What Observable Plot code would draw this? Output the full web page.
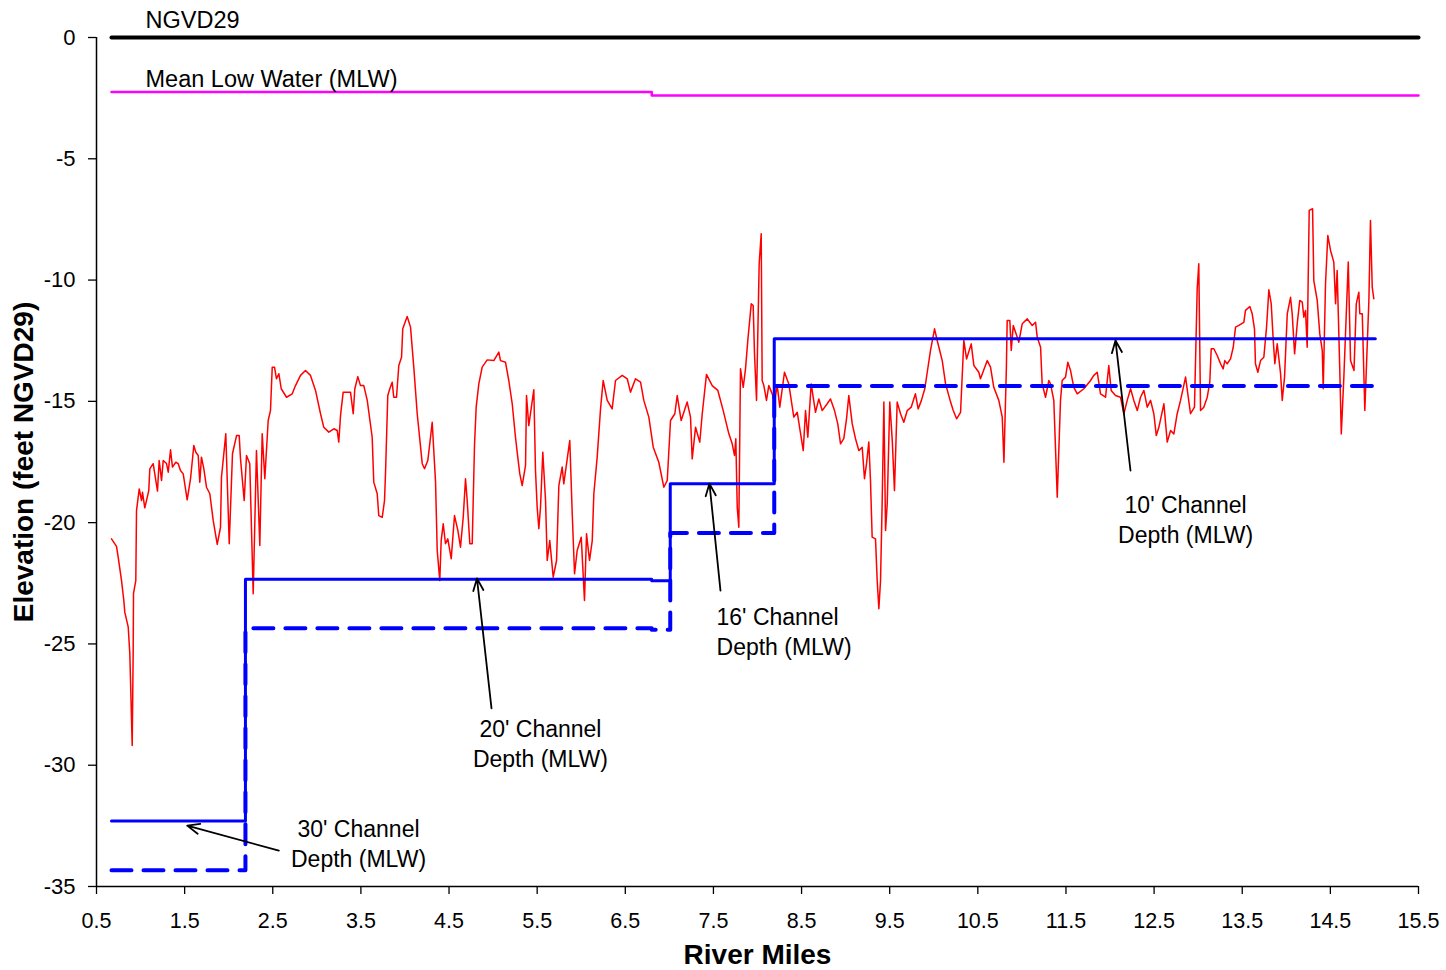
<!DOCTYPE html>
<html><head><meta charset="utf-8">
<script src="https://cdn.jsdelivr.net/npm/d3@7"></script>
<script src="https://cdn.jsdelivr.net/npm/@observablehq/plot@0.6"></script>
<style>html,body{margin:0;padding:0;background:#fff;} svg{display:block}</style>
</head><body><div id="chart"></div>
<script>
// River bottom profile (river miles, elevation ft NGVD29)
const profileMiles = [
0.670,0.727,0.746,0.784,0.810,0.821,0.860,0.878,0.905,0.916,
0.920,0.946,0.954,0.985,1.011,1.022,1.048,1.067,1.093,1.105,
1.143,1.173,1.192,1.211,1.238,1.257,1.294,1.314,1.340,1.362,
1.400,1.427,1.453,1.484,1.529,1.567,1.604,1.627,1.654,1.672,
1.691,1.718,1.748,1.786,1.824,1.870,1.907,1.918,1.967,2.006,
2.043,2.089,2.119,2.134,2.176,2.202,2.239,2.278,2.315,2.353,
2.380,2.410,2.448,2.474,2.494,2.520,2.542,2.569,2.596,2.656,
2.721,2.758,2.815,2.871,2.928,2.985,3.042,3.079,3.136,3.193,
3.231,3.249,3.269,3.299,3.382,3.413,3.431,3.465,3.495,3.533,
3.572,3.628,3.646,3.685,3.703,3.742,3.768,3.779,3.805,3.828,
3.855,3.873,3.904,3.930,3.961,3.975,4.025,4.063,4.100,4.139,
4.196,4.222,4.259,4.290,4.309,4.347,4.366,4.395,4.411,4.434,
4.460,4.486,4.525,4.562,4.600,4.630,4.661,4.687,4.706,4.736,
4.763,4.789,4.808,4.838,4.876,4.933,5.008,5.065,5.084,5.141,
5.178,5.217,5.254,5.280,5.303,5.330,5.368,5.379,5.405,5.462,
5.481,5.500,5.519,5.538,5.564,5.595,5.614,5.643,5.682,5.720,
5.746,5.784,5.802,5.870,5.898,5.924,5.954,6.000,6.037,6.060,
6.094,6.125,6.143,6.181,6.219,6.249,6.295,6.351,6.389,6.465,
6.522,6.559,6.616,6.673,6.710,6.767,6.817,6.880,6.937,6.976,
7.013,7.062,7.089,7.134,7.202,7.240,7.259,7.297,7.345,7.373,
7.421,7.486,7.550,7.611,7.675,7.713,7.739,7.754,7.770,7.788,
7.807,7.838,7.864,7.890,7.929,7.951,7.966,7.989,8.019,8.042,
8.053,8.072,8.102,8.128,8.167,8.193,8.224,8.253,8.306,8.355,
8.412,8.451,8.519,8.545,8.571,8.609,8.658,8.696,8.734,8.791,
8.828,8.874,8.911,8.942,8.979,9.010,9.036,9.075,9.112,9.150,
9.188,9.214,9.237,9.263,9.282,9.301,9.339,9.358,9.377,9.396,
9.415,9.434,9.453,9.472,9.501,9.529,9.554,9.585,9.623,9.660,
9.699,9.744,9.792,9.823,9.860,9.898,9.926,9.963,10.009,10.039,
10.096,10.134,10.191,10.221,10.259,10.304,10.341,10.372,10.425,10.455,
10.511,10.530,10.607,10.644,10.681,10.738,10.777,10.796,10.824,10.833,
10.863,10.879,10.902,10.928,10.965,11.004,11.061,11.117,11.155,11.174,
11.212,11.230,11.268,11.306,11.325,11.362,11.401,11.438,11.457,11.495,
11.521,11.552,11.589,11.628,11.703,11.779,11.816,11.855,11.892,11.949,
11.986,12.013,12.062,12.119,12.157,12.195,12.233,12.270,12.309,12.346,
12.384,12.422,12.460,12.497,12.525,12.554,12.611,12.649,12.687,12.724,
12.762,12.800,12.857,12.913,12.958,12.989,13.007,13.027,13.064,13.103,
13.132,13.148,13.178,13.216,13.254,13.284,13.302,13.329,13.367,13.398,
13.424,13.461,13.518,13.537,13.586,13.613,13.639,13.650,13.677,13.708,
13.745,13.776,13.802,13.829,13.852,13.870,13.897,13.935,13.954,13.980,
14.011,14.048,14.067,14.094,14.124,14.153,14.181,14.199,14.218,14.237,
14.260,14.298,14.312,14.351,14.380,14.408,14.419,14.445,14.471,14.502,
14.539,14.559,14.577,14.607,14.624,14.653,14.703,14.729,14.768,14.794,
14.823,14.834,14.862,14.891,14.937,14.955,14.975,14.993
];
const profileElev = [
-20.67,-20.98,-21.42,-22.39,-23.21,-23.69,-24.31,-25.39,-29.19,-25.39,
-22.92,-22.39,-19.50,-18.61,-19.09,-18.75,-19.39,-19.09,-18.68,-17.78,
-17.57,-18.26,-18.70,-17.44,-18.26,-17.44,-17.56,-17.92,-17.00,-17.71,
-17.51,-17.57,-17.85,-17.99,-19.06,-18.19,-16.82,-17.10,-17.23,-18.33,
-17.30,-17.78,-18.54,-18.81,-19.91,-20.90,-20.19,-18.13,-16.34,-20.87,
-17.16,-16.41,-16.41,-17.37,-19.09,-17.23,-17.57,-22.93,-17.03,-20.94,
-16.34,-18.19,-15.79,-15.38,-13.59,-13.59,-14.07,-13.86,-14.48,-14.83,
-14.69,-14.35,-13.93,-13.73,-13.93,-14.55,-15.51,-16.07,-16.27,-16.13,
-16.20,-16.68,-15.58,-14.62,-14.62,-15.51,-14.48,-13.98,-14.35,-14.35,
-14.96,-16.48,-18.33,-18.81,-19.71,-19.78,-19.09,-17.99,-14.76,-14.48,
-14.21,-14.83,-14.83,-13.52,-13.18,-12.01,-11.50,-11.94,-13.59,-15.51,
-17.57,-17.78,-17.44,-16.48,-15.86,-18.33,-21.15,-22.39,-20.74,-20.05,
-20.87,-20.67,-21.49,-19.71,-20.32,-21.01,-19.78,-18.19,-19.09,-20.87,
-20.87,-16.82,-15.24,-14.28,-13.59,-13.29,-13.32,-12.97,-13.32,-13.39,
-14.14,-15.10,-16.48,-17.30,-17.99,-18.47,-17.64,-14.76,-16.00,-14.52,
-17.85,-19.36,-20.25,-19.36,-17.10,-19.09,-21.56,-20.74,-22.25,-21.56,
-18.47,-17.71,-18.40,-16.61,-19.64,-22.11,-21.15,-20.60,-23.21,-20.46,
-21.56,-20.74,-18.81,-17.30,-15.31,-14.14,-14.96,-15.31,-14.14,-13.93,
-14.07,-14.62,-14.07,-14.21,-14.96,-15.65,-16.89,-17.51,-18.54,-18.26,
-15.79,-15.51,-14.76,-15.79,-15.03,-15.65,-17.37,-16.07,-16.68,-15.51,
-13.89,-14.35,-14.55,-15.38,-16.34,-16.75,-17.23,-16.54,-19.36,-20.19,
-13.66,-14.42,-13.66,-12.49,-10.98,-11.05,-13.04,-14.96,-9.33,-8.09,
-14.14,-14.35,-14.96,-14.35,-14.69,-15.03,-14.35,-15.24,-13.80,-14.28,
-15.65,-15.45,-17.03,-15.38,-16.48,-14.28,-15.45,-14.90,-15.38,-15.10,
-14.90,-15.38,-15.93,-16.75,-16.54,-15.72,-14.76,-15.93,-16.54,-17.03,
-16.89,-18.19,-17.57,-16.68,-18.26,-20.60,-20.67,-22.39,-23.55,-22.39,
-19.09,-15.03,-20.32,-19.22,-15.03,-16.61,-18.68,-15.03,-15.51,-15.86,
-15.38,-15.24,-14.69,-15.31,-14.96,-14.48,-13.80,-12.90,-12.01,-12.49,
-13.32,-14.28,-15.03,-15.38,-15.72,-15.45,-12.49,-13.25,-12.63,-13.52,
-13.80,-14.07,-13.32,-13.59,-14.42,-14.96,-15.65,-17.51,-13.59,-11.67,
-11.67,-12.90,-11.87,-12.15,-12.56,-11.80,-11.60,-11.87,-11.74,-12.36,
-12.77,-14.28,-14.83,-14.14,-14.28,-14.96,-18.95,-14.96,-14.14,-14.00,
-13.39,-13.73,-14.42,-14.69,-14.48,-14.14,-13.93,-13.80,-14.69,-14.83,
-13.52,-14.55,-14.76,-14.83,-15.51,-14.96,-14.48,-14.96,-15.38,-14.83,
-14.55,-15.24,-14.96,-15.51,-16.41,-16.07,-15.10,-16.68,-16.20,-16.34,
-15.51,-14.96,-14.00,-15.51,-15.24,-10.36,-9.33,-15.38,-15.24,-14.83,
-14.21,-12.83,-12.83,-13.11,-13.45,-13.66,-13.32,-13.45,-13.25,-12.77,
-11.94,-11.87,-11.74,-11.25,-11.09,-11.39,-12.01,-13.45,-13.80,-13.32,
-13.18,-11.94,-10.40,-10.98,-12.49,-13.45,-12.63,-13.86,-14.96,-14.00,
-11.39,-10.71,-11.39,-13.04,-11.80,-10.84,-10.91,-11.53,-11.25,-12.77,
-7.13,-7.06,-10.02,-10.84,-12.22,-12.90,-14.48,-10.15,-8.16,-8.78,
-9.26,-10.98,-9.61,-13.73,-16.34,-14.00,-9.26,-13.32,-13.73,-10.98,
-10.50,-11.39,-11.39,-15.38,-10.84,-7.54,-10.29,-10.77
];
// Channel depths (step changes at these river miles)
const channelMiles = [0.67, 2.19, 6.80, 7.01, 8.19, 15.01];
const channelDepth = [-32.30, -22.33, -22.40, -18.40, -12.42, -12.42];
const channelOverdepth = [-34.33, -24.35, -24.42, -20.43, -14.37, -14.37];
// Mean low water and datum
const mlwMiles = [0.67, 6.80, 15.50];
const mlwElev = [-2.25, -2.39, -2.39];
const datumMiles = [0.67, 15.50];
const datumElev = [0, 0];
// Ticks
const xTicks = [0.5,1.5,2.5,3.5,4.5,5.5,6.5,7.5,8.5,9.5,10.5,11.5,12.5,13.5,14.5,15.5];
const yTicks = [0,-5,-10,-15,-20,-25,-30,-35];
// Annotation texts and their anchor points (data units)
const lineLabels = ["NGVD29", "Mean Low Water (MLW)"];
const lineLabelMiles = [1.056, 1.056];
const lineLabelElev = [0.72, -1.72];
const noteTexts = ["30' Channel\nDepth (MLW)", "20' Channel\nDepth (MLW)", "16' Channel\nDepth (MLW)", "10' Channel\nDepth (MLW)"];
const noteMiles = [3.473, 5.537, 7.535, 12.857];
const noteElev = [-33.18, -29.06, -24.44, -19.82];
const noteAnchor = ["middle", "middle", "start", "middle"];
const arrowFromMiles = [2.569, 4.982, 7.580, 12.232];
const arrowFromElev = [-33.52, -27.66, -22.80, -17.85];
const arrowToMiles = [1.529, 4.817, 7.455, 12.062];
const arrowToElev = [-32.49, -22.30, -18.39, -12.49];

const profile = profileMiles.map((m, i) => ({mile: m, elev: profileElev[i]}));
const channel = channelMiles.map((m, i) => ({mile: m, solid: channelDepth[i], dashed: channelOverdepth[i]}));
const mlw = mlwMiles.map((m, i) => ({mile: m, elev: mlwElev[i]}));
const datum = datumMiles.map((m, i) => ({mile: m, elev: datumElev[i]}));
const lineLabelData = lineLabels.map((t, i) => ({text: t, mile: lineLabelMiles[i], elev: lineLabelElev[i]}));
const notes = noteTexts.map((t, i) => ({text: t, mile: noteMiles[i], elev: noteElev[i], anchor: noteAnchor[i]}));
const arrows = arrowFromMiles.map((m, i) => ({x1: m, y1: arrowFromElev[i], x2: arrowToMiles[i], y2: arrowToElev[i]}));

const FONT = "'Liberation Sans', Arial, Helvetica, sans-serif";

const chart = Plot.plot({
  width: 1446,
  height: 970,
  marginLeft: 96,
  marginRight: 28,
  marginTop: 37,
  marginBottom: 84,
  style: {fontFamily: FONT, background: "#fff", color: "#000", overflow: "visible"},
  x: {domain: [0.5, 15.5]},
  y: {domain: [-35, 0]},
  marks: [
    Plot.axisX(xTicks, {tickSize: 8, tickPadding: 18, fontSize: 21.5, tickFormat: d => d.toFixed(1), label: null, stroke: "#000", strokeWidth: 1.3}),
    Plot.axisY(yTicks, {tickSize: 8, tickPadding: 13, fontSize: 22, tickFormat: d => String(d), label: null, stroke: "#000", strokeWidth: 1.3}),
    Plot.ruleX([0.5], {stroke: "#000", strokeWidth: 1.5}),
    Plot.ruleY([-35], {stroke: "#000", strokeWidth: 1.5}),
    Plot.line(datum, {x: "mile", y: "elev", stroke: "#000", strokeWidth: 4}),
    Plot.line(mlw, {x: "mile", y: "elev", stroke: "#ff00ff", strokeWidth: 2.5, curve: "step-after"}),
    Plot.line(profile, {x: "mile", y: "elev", stroke: "#ff0000", strokeWidth: 1.5, strokeLinejoin: "round"}),
    Plot.line(channel, {x: "mile", y: "dashed", stroke: "#0000ff", strokeWidth: 4, strokeDasharray: "20,12", curve: "step-after"}),
    Plot.line(channel, {x: "mile", y: "solid", stroke: "#0000ff", strokeWidth: 3, curve: "step-after"}),
    Plot.arrow(arrows, {x1: "x1", y1: "y1", x2: "x2", y2: "y2", stroke: "#000", strokeWidth: 1.8, headLength: 11, headAngle: 45}),
    Plot.text(lineLabelData, {x: "mile", y: "elev", text: "text", textAnchor: "start", fontSize: 23.5, fill: "#000"}),
    Plot.text(notes.filter(d => d.anchor === "middle"), {x: "mile", y: "elev", text: "text", textAnchor: "middle", fontSize: 23, lineHeight: 1.304, fill: "#000"}),
    Plot.text(notes.filter(d => d.anchor === "start"), {x: "mile", y: "elev", text: "text", textAnchor: "start", fontSize: 23, lineHeight: 1.304, fill: "#000"}),
    Plot.text(["River Miles"], {frameAnchor: "bottom", dy: 77, fontSize: 28, fontWeight: "bold", fill: "#000"}),
    Plot.text(["Elevation (feet NGVD29)"], {frameAnchor: "left", textAnchor: "middle", dx: -72, rotate: -90, fontSize: 28, fontWeight: "bold", fill: "#000"})
  ]
});
document.getElementById("chart").appendChild(chart);
</script>
</body></html>
